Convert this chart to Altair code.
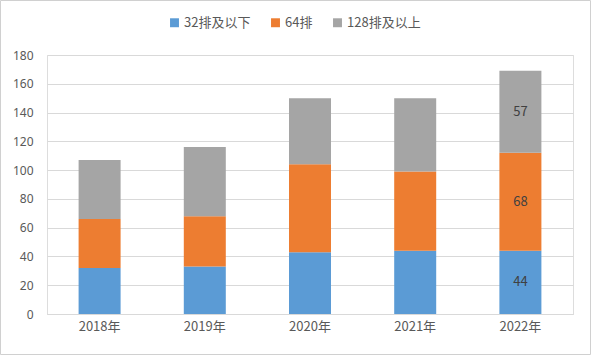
import altair as alt
import pandas as pd

years = ["2018年", "2019年", "2020年", "2021年", "2022年"]
series = ["32排及以下", "64排", "128排及以上"]
v32 = [32, 33, 43, 44, 44]
v64 = [34, 35, 61, 55, 68]
v128 = [41, 48, 46, 51, 57]
tick_values = [0, 20, 40, 60, 80, 100, 120, 140, 160, 180]
colors = ["#5B9BD5", "#ED7D31", "#A5A5A5"]
label_year = "2022年"

rows = []
for i, y in enumerate(years):
    for k, (s, vals) in enumerate(zip(series, [v32, v64, v128])):
        rows.append({"year": y, "series": s, "value": vals[i], "order": k})
df = pd.DataFrame(rows)

FONT = "Noto Sans CJK SC"
W, H = 526, 259

x_axis = alt.Axis(labelAngle=0, labelFontSize=13, labelColor="#595959",
                  labelFont=FONT, domainColor="#D9D9D9", ticks=False,
                  labelPadding=6)
y_axis = alt.Axis(values=tick_values, labelFontSize=12,
                  labelColor="#595959", labelFont="Noto Sans", domain=False,
                  ticks=False, labelPadding=14, gridColor="#D9D9D9",
                  labelOverlap=False)
x_scale = alt.Scale(paddingInner=0.6, paddingOuter=0.3)
y_scale = alt.Scale(domain=[0, 180], nice=False)

base = alt.Chart(df)

bars = base.mark_bar(size=42).encode(
    x=alt.X("year:N", sort=years, title=None, scale=x_scale, axis=x_axis),
    y=alt.Y("value:Q", stack="zero", title=None, scale=y_scale, axis=y_axis),
    color=alt.Color("series:N", sort=series,
                    scale=alt.Scale(domain=series, range=colors),
                    legend=alt.Legend(title=None, orient="none", direction="horizontal",
                                      legendX=121, legendY=-39, labelFontSize=13,
                                      labelColor="#595959", labelFont=FONT,
                                      symbolType="square", symbolSize=80,
                                      symbolStrokeWidth=0, columnPadding=18,
                                      labelOffset=3)),
    order=alt.Order("order:Q"),
)

labels = base.transform_filter(
    alt.datum.year == label_year
).transform_stack(
    stack="value", groupby=["year"], as_=["y0", "y1"], sort=[alt.SortField("order")]
).transform_calculate(
    mid="(datum.y0 + datum.y1) / 2"
).mark_text(fontSize=13, color="#404040", font=FONT).encode(
    x=alt.X("year:N", sort=years, title=None, scale=x_scale, axis=x_axis),
    y=alt.Y("mid:Q", title=None, scale=y_scale, axis=y_axis),
    text=alt.Text("value:Q"),
)

border = alt.Chart(pd.DataFrame({"a": [0]})).mark_rect(
    fill=None, stroke="#D0D0D0", strokeWidth=1
).encode(
    x=alt.value(-46.5), x2=alt.value(543.5), y=alt.value(-54.5), y2=alt.value(299.5)
)

chart = alt.layer(border, bars, labels).properties(
    width=W, height=H,
    padding={"left": 47, "top": 55, "right": 18, "bottom": 41},
    autosize=alt.AutoSizeParams(type="none"),
).configure_view(stroke=None).configure_axisY(
    labelOverlap=False, values=tick_values, grid=True
).configure(background="white")

chart.save("out.html", embed_options={"renderer": "svg", "actions": False})
